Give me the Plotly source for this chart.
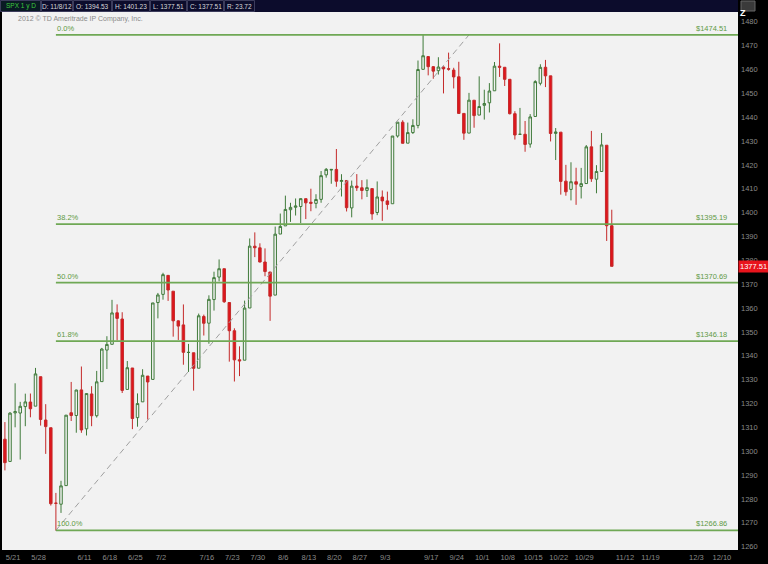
import plotly.graph_objects as go

# ---------------- data ----------------
dates = ["5/18","5/21","5/22","5/23","5/24","5/25","5/29","5/30","5/31","6/1",
         "6/4","6/5","6/6","6/7","6/8","6/11","6/12","6/13","6/14","6/15",
         "6/18","6/19","6/20","6/21","6/22","6/25","6/26","6/27","6/28","6/29",
         "7/2","7/3","7/5","7/6","7/9","7/10","7/11","7/12","7/13",
         "7/16","7/17","7/18","7/19","7/20","7/23","7/24","7/25","7/26","7/27",
         "7/30","7/31","8/1","8/2","8/3","8/6","8/7","8/8","8/9","8/10",
         "8/13","8/14","8/15","8/16","8/17","8/20","8/21","8/22","8/23","8/24",
         "8/27","8/28","8/29","8/30","8/31","9/4","9/5","9/6","9/7",
         "9/10","9/11","9/12","9/13","9/14","9/17","9/18","9/19","9/20","9/21",
         "9/24","9/25","9/26","9/27","9/28","10/1","10/2","10/3","10/4","10/5",
         "10/8","10/9","10/10","10/11","10/12","10/15","10/16","10/17","10/18","10/19",
         "10/22","10/23","10/24","10/25","10/26","10/31","11/1","11/2",
         "11/5","11/6","11/7","11/8"]
opens = [1305.05,1295.73,1316.09,1316.02,1318.72,1320.64,1318.90,1331.25,1313.09,1309.87,
         1278.29,1277.82,1285.61,1316.15,1314.99,1325.72,1309.40,1324.02,1314.88,1329.19,
         1342.42,1344.83,1358.04,1355.43,1325.92,1334.90,1314.09,1320.71,1331.52,1330.12,
         1362.33,1365.75,1373.72,1367.09,1354.66,1352.96,1341.40,1341.29,1334.81,
         1356.50,1353.68,1363.58,1373.01,1376.51,1362.34,1350.52,1338.35,1338.17,1360.05,
         1385.94,1385.27,1379.32,1375.13,1365.45,1391.04,1394.46,1401.23,1402.26,1402.58,
         1405.87,1404.36,1403.89,1405.57,1415.84,1417.85,1418.13,1413.09,1413.49,1401.99,
         1411.13,1410.44,1409.32,1410.08,1400.07,1406.54,1404.94,1403.74,1432.12,
         1437.92,1429.13,1433.56,1436.56,1460.07,1465.42,1461.19,1459.50,1461.05,1460.34,
         1459.76,1456.94,1441.60,1433.36,1447.13,1440.90,1444.99,1446.05,1451.08,1461.40,
         1460.93,1455.90,1441.48,1432.82,1432.84,1428.75,1440.31,1454.22,1460.94,1457.34,
         1433.21,1433.74,1413.20,1409.74,1412.97,1410.99,1412.20,1427.59,
         1414.02,1417.26,1428.27,1394.53]
highs = [1312.24,1316.39,1328.49,1320.71,1324.14,1324.20,1334.93,1331.25,1319.74,1309.87,
         1282.55,1287.62,1315.13,1329.05,1325.81,1335.52,1324.31,1327.28,1333.68,1343.32,
         1348.22,1363.46,1361.57,1358.27,1337.82,1334.90,1324.24,1334.40,1331.52,1362.17,
         1366.35,1374.81,1373.85,1367.09,1354.87,1361.54,1345.00,1341.29,1357.70,
         1357.26,1365.36,1375.26,1380.39,1376.51,1362.34,1351.53,1343.98,1363.13,1389.19,
         1391.74,1387.16,1385.03,1375.13,1394.16,1399.63,1407.14,1404.14,1405.95,1405.98,
         1405.87,1410.03,1407.73,1417.44,1418.71,1418.13,1426.68,1416.12,1413.49,1413.46,
         1416.17,1413.63,1413.95,1410.08,1413.09,1409.31,1408.81,1432.12,1437.92,
         1438.74,1437.76,1439.15,1463.76,1474.51,1465.63,1461.47,1465.15,1461.23,1467.07,
         1460.72,1463.24,1441.60,1450.20,1447.13,1457.14,1451.52,1454.30,1463.14,1470.96,
         1460.93,1455.90,1442.52,1443.90,1438.43,1441.31,1455.51,1462.20,1464.02,1457.34,
         1435.46,1433.74,1420.04,1421.12,1418.82,1418.76,1428.35,1434.27,
         1419.90,1433.38,1428.27,1401.23]
lows = [1291.98,1295.73,1310.04,1296.53,1310.50,1314.23,1318.90,1310.76,1298.90,1277.25,
        1266.74,1274.16,1285.61,1312.68,1307.77,1307.73,1306.62,1310.51,1314.14,1329.19,
        1334.46,1344.83,1346.45,1324.41,1325.92,1309.27,1310.30,1320.71,1313.29,1330.12,
        1355.70,1363.53,1363.02,1348.03,1346.65,1336.27,1333.25,1325.41,1334.81,
        1348.51,1345.07,1358.96,1371.21,1362.19,1337.56,1329.24,1331.50,1338.17,1360.05,
        1381.37,1379.17,1373.35,1354.65,1365.45,1391.04,1394.46,1396.13,1398.80,1395.62,
        1397.32,1400.60,1401.83,1404.15,1414.67,1412.12,1410.86,1406.78,1400.50,1398.04,
        1409.11,1405.59,1406.57,1397.01,1398.96,1396.56,1401.25,1403.74,1431.45,
        1428.98,1429.13,1432.99,1435.34,1460.07,1457.55,1456.13,1457.88,1449.98,1459.51,
        1452.06,1441.59,1430.53,1433.32,1435.60,1440.90,1439.01,1441.99,1451.08,1456.89,
        1453.10,1441.18,1430.64,1432.82,1425.53,1427.24,1440.31,1453.35,1452.63,1429.85,
        1422.06,1407.56,1407.10,1405.14,1403.28,1405.95,1412.20,1412.91,
        1408.13,1417.26,1388.14,1377.51]
closes = [1295.22,1315.99,1316.63,1318.86,1320.68,1317.82,1332.42,1313.32,1310.33,1278.04,
          1278.18,1285.50,1315.13,1314.99,1325.66,1308.93,1324.18,1314.88,1329.10,1342.84,
          1344.78,1357.98,1355.69,1325.51,1335.02,1313.72,1319.99,1331.85,1329.04,1362.16,
          1365.51,1374.02,1367.58,1354.68,1352.46,1341.47,1341.45,1334.76,1356.78,
          1353.64,1363.67,1372.78,1376.51,1362.66,1350.52,1338.31,1337.89,1360.02,1385.97,
          1385.30,1379.32,1375.32,1365.00,1390.99,1394.23,1401.35,1402.22,1402.80,1405.87,
          1404.11,1403.93,1405.53,1415.51,1418.16,1418.13,1413.17,1413.49,1402.08,1411.13,
          1410.44,1409.30,1410.49,1399.48,1406.58,1404.94,1403.44,1432.12,1437.92,
          1429.08,1433.56,1436.56,1459.99,1465.77,1461.19,1459.32,1461.05,1460.26,1460.15,
          1456.89,1441.59,1433.32,1447.15,1440.67,1444.49,1445.75,1450.99,1461.40,1460.93,
          1455.88,1441.48,1432.56,1432.84,1428.59,1440.13,1454.92,1460.91,1457.34,1433.19,
          1433.82,1413.11,1408.75,1412.97,1411.94,1412.16,1427.59,1414.20,
          1417.26,1428.39,1394.53,1377.51]

# future (empty) sessions shown on the time axis
future_dates = ["11/9","11/12","11/13","11/14","11/15","11/16","11/19","11/20","11/21","11/23",
                "11/26","11/27","11/28","11/29","11/30","12/3","12/4","12/5","12/6","12/7",
                "12/10","12/11","12/12","12/13","12/14"]

tick_labels = ["5/21","5/28","6/11","6/18","6/25","7/2","7/16","7/23","7/30","8/6","8/13",
               "8/20","8/27","9/3","9/17","9/24","10/1","10/8","10/15","10/22","10/29",
               "11/12","11/19","12/3","12/10"]
tick_sessions = ["5/21","5/29","6/11","6/18","6/25","7/2","7/16","7/23","7/30","8/6","8/13",
                 "8/20","8/27","9/4","9/17","9/24","10/1","10/8","10/15","10/22","10/31",
                 "11/12","11/19","12/3","12/10"]

price_ticks = list(range(1260, 1481, 10))

fib_pcts = ["0.0%", "38.2%", "50.0%", "61.8%", "100.0%"]
fib_prices = [1474.51, 1395.19, 1370.69, 1346.18, 1266.86]
fib_start_session = "6/4"
trend_sessions = ["6/4", "9/27"]
trend_prices = [1266.86, 1474.51]

header_items = ["SPX 1 y D", "D: 11/8/12", "O: 1394.53", "H: 1401.23",
                "L: 1377.51", "C: 1377.51", "R: 23.72"]
last_price = 1377.51

# ---------------- figure ----------------
axis_dates = dates + future_dates
idx = {d: i for i, d in enumerate(axis_dates)}
x_vals = [idx[d] for d in dates]

W, H = 768, 564
ML, MR, MT, MB = 2, 30, 12, 14
PW, PH = W - ML - MR, H - MT - MB
FONT = "Liberation Sans"


def px(xp):
    return (xp - ML) / PW


def py(yp):
    return (H - MB - yp) / PH


fig = go.Figure()
fig.add_trace(go.Candlestick(
    x=x_vals, open=opens, high=highs, low=lows, close=closes,
    increasing=dict(line=dict(color="#3f7a3a", width=1), fillcolor="#f2f2f2"),
    decreasing=dict(line=dict(color="#c42a2a", width=1), fillcolor="#e0151c"),
    whiskerwidth=0, showlegend=False, hoverinfo="skip"))

# trend (dashed) line of the retracement tool
fig.add_trace(go.Scatter(
    x=[idx[d] for d in trend_sessions], y=trend_prices, mode="lines",
    line=dict(color="#a0a0a0", width=1, dash="6px,4px"),
    showlegend=False, hoverinfo="skip"))

x_lo, x_hi = -0.57, 143.75
shapes = []
annotations = []
for pct, p in zip(fib_pcts, fib_prices):
    shapes.append(dict(type="line", xref="x", yref="y", x0=idx[fib_start_session], x1=x_hi,
                       y0=p, y1=p, line=dict(color="#6fa855", width=1.6), layer="above"))
    annotations.append(dict(xref="x", yref="y", x=idx[fib_start_session] - 0.2, y=p,
                            text=pct, showarrow=False, xanchor="left", yanchor="bottom",
                            yshift=0, font=dict(size=7.5, color="#5f9a45", family=FONT)))
    annotations.append(dict(xref="paper", yref="y", x=px(729), y=p,
                            text="$%.2f" % p, showarrow=False, xanchor="right", yanchor="bottom",
                            yshift=0, font=dict(size=7.5, color="#5f9a45", family=FONT)))

# header bar
shapes.append(dict(type="rect", xref="paper", yref="paper", x0=px(0), x1=px(738),
                   y0=py(12), y1=py(0), fillcolor="#0c0c2c", line=dict(width=0), layer="above"))
bounds = [0, 41, 73, 112, 150, 187, 224, 255]
for i, txt in enumerate(header_items):
    x0, x1 = bounds[i], bounds[i + 1] - 1
    shapes.append(dict(type="rect", xref="paper", yref="paper", x0=px(x0 + 0.5), x1=px(x1 + 0.5),
                       y0=py(11.5), y1=py(0.5),
                       fillcolor="#0a1a24" if i == 0 else "#0c0c2c",
                       line=dict(color="#3c3c5c", width=1), layer="above"))
    annotations.append(dict(xref="paper", yref="paper", x=px((x0 + x1) / 2 + 0.5), y=py(6),
                            text=txt, showarrow=False, xanchor="center", yanchor="middle",
                            font=dict(size=6.5, family=FONT,
                                      color="#3cc83c" if i == 0 else "#d8d8d8")))
# corner icon
shapes.append(dict(type="rect", xref="paper", yref="paper", x0=px(741), x1=px(755),
                   y0=py(11), y1=py(1), fillcolor="#3a3a3a", line=dict(color="#666666", width=1),
                   layer="above"))
annotations.append(dict(xref="paper", yref="paper", x=px(748), y=py(6), text="<b>Z</b>",
                        showarrow=False, font=dict(size=9, color="#ffffff", family=FONT)))

# copyright
annotations.append(dict(xref="paper", yref="paper", x=px(16), y=py(19),
                        text="2012 © TD Ameritrade IP Company, Inc.", showarrow=False,
                        xanchor="left", yanchor="middle",
                        font=dict(size=7, color="#8a8a8a", family=FONT)))

# last price marker
annotations.append(dict(xref="paper", yref="y", x=1, y=last_price, text="%.2f" % last_price,
                        showarrow=False, xanchor="left", yanchor="middle", bgcolor="#e8141c",
                        borderpad=1, font=dict(size=7.5, color="#ffffff", family=FONT)))

fig.update_layout(
    width=W, height=H,
    margin=dict(l=ML, r=MR, t=MT, b=MB, pad=0),
    paper_bgcolor="#000000", plot_bgcolor="#f2f2f2",
    shapes=shapes, annotations=annotations,
    showlegend=False,
    xaxis=dict(range=[x_lo, x_hi], rangeslider=dict(visible=False),
               tickvals=[idx[d] for d in tick_sessions], ticktext=tick_labels,
               ticks="", showgrid=False, zeroline=False, showline=False,
               ticklabelshift=3, ticklabelstandoff=1,
               tickfont=dict(size=7.5, color="#8a8a8a", family=FONT)),
    yaxis=dict(side="right", range=[1258.62, 1484.1], tickvals=price_ticks,
               ticks="", showgrid=False, zeroline=False, showline=False,
               ticklabelstandoff=2,
               tickfont=dict(size=7.5, color="#8a8a8a", family=FONT)),
)

fig.write_html("out.html", config={"displayModeBar": False},
               post_script="document.body.style.margin='0';document.body.style.overflow='hidden';"
                           "document.body.style.background='#000';")
